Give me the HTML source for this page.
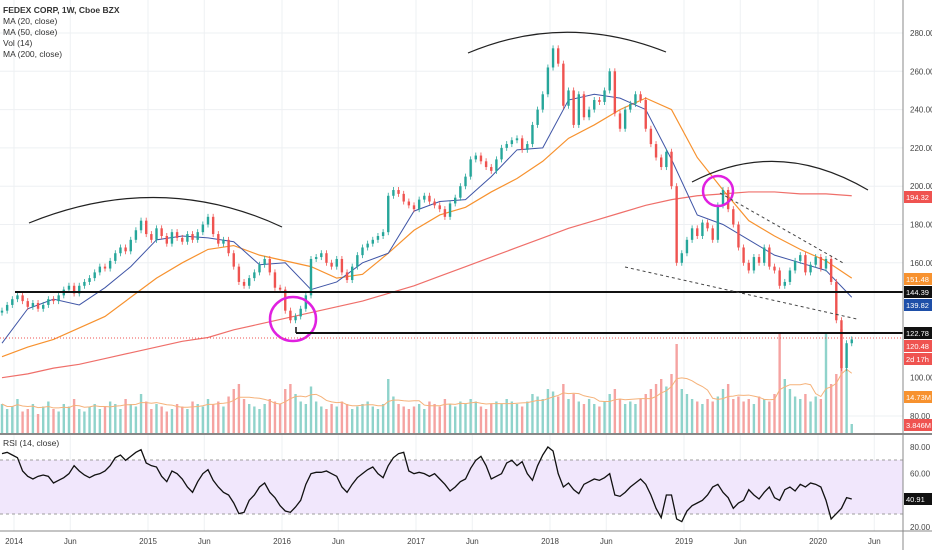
<!DOCTYPE html>
<html><head><meta charset="utf-8">
<style>
body{margin:0;background:#fff;width:932px;height:550px;overflow:hidden;font-family:"Liberation Sans",sans-serif}
svg{display:block}
text{font-family:"Liberation Sans",sans-serif}
</style></head>
<body>
<svg id="chart" width="932" height="550" viewBox="0 0 932 550" xmlns="http://www.w3.org/2000/svg">
<rect x="0" y="0" width="932" height="550" fill="#fff"/>
<g id="grid"></g>
<rect x="0" y="460" width="903" height="54" fill="#f1e7fc"/>
<line x1="0" x2="903" y1="460" y2="460" stroke="#9e9e9e" stroke-dasharray="3,3"/>
<line x1="0" x2="903" y1="514" y2="514" stroke="#9e9e9e" stroke-dasharray="3,3"/>
<g id="vol"></g>
<g id="ma"></g>
<g id="candles"></g>
<g id="rsi"></g>
<g fill="none">
<path d="M29,223 Q160,170 282,227" stroke="#222" stroke-width="1.2"/>
<path d="M468,53 Q565,12 666,52" stroke="#222" stroke-width="1.2"/>
<path d="M692,182 Q778,137 868,190" stroke="#222" stroke-width="1.2"/>
<ellipse cx="293" cy="319" rx="23" ry="22" stroke="#e020e0" stroke-width="2.5"/>
<circle cx="718" cy="191" r="15" stroke="#e020e0" stroke-width="2.5"/>
<line x1="15" x2="903" y1="292" y2="292" stroke="#111" stroke-width="2"/>
<line x1="296" x2="903" y1="333" y2="333" stroke="#111" stroke-width="2"/>
<line x1="296" x2="296" y1="333" y2="327" stroke="#111" stroke-width="1.5"/>
<line x1="0" x2="903" y1="338" y2="338" stroke="#ef5350" stroke-width="1" stroke-dasharray="1,2"/>
<line x1="720" y1="193" x2="845" y2="264" stroke="#444" stroke-dasharray="3,3"/>
<line x1="625" y1="267" x2="857" y2="319" stroke="#444" stroke-dasharray="3,3"/>
</g>
<line x1="903" x2="903" y1="0" y2="550" stroke="#888"/>
<line x1="0" x2="932" y1="434" y2="434" stroke="#888" stroke-width="2"/>
<line x1="0" x2="932" y1="531" y2="531" stroke="#888" stroke-width="1"/>
<g id="axis" font-size="8" fill="#444"></g>
<g font-size="8.5" fill="#333">
<text x="3" y="13" font-weight="bold">FEDEX CORP, 1W, Cboe BZX</text>
<text x="3" y="24">MA (20, close)</text>
<text x="3" y="35">MA (50, close)</text>
<text x="3" y="46">Vol (14)</text>
<text x="3" y="57">MA (200, close)</text>
<text x="3" y="446">RSI (14, close)</text>
</g>
</svg>
<script>
const closes=[135,138,141,143,140,137,139,136,138,141,
140,143,146,148,144,148,150,152,155,158,
157,161,165,168,166,172,177,182,175,172,
178,174,170,176,173,171,175,172,176,180,
184,175,170,172,165,158,150,148,152,155,
159,162,155,147,146,135,130,132,136,143,
162,163,165,160,158,162,155,151,158,164,
168,170,172,174,176,195,198,196,192,190,
188,193,195,192,190,188,184,191,194,200,
205,214,216,213,210,208,214,220,222,224,
225,219,222,232,240,248,262,272,264,242,
250,232,248,236,240,245,244,250,260,238,
230,240,243,248,245,230,222,215,210,218,
200,160,165,172,178,174,181,178,172,190,
198,188,180,168,160,156,163,160,168,158,
156,148,150,156,161,164,155,159,163,157,
162,150,130,105,118,120];
const volumes=[12,10,11,14,9,10,12,8,11,13,
10,9,12,11,14,10,9,11,12,10,
11,13,12,10,14,12,11,16,13,10,
12,11,9,10,12,11,10,13,12,11,
14,12,13,11,15,18,20,14,12,11,
10,12,14,13,12,18,20,16,13,12,
19,13,11,10,12,11,13,12,10,11,
12,13,11,10,12,22,15,12,11,10,
11,12,10,13,12,11,14,12,11,13,
12,14,13,11,10,12,13,12,14,13,
12,11,13,16,15,14,18,17,15,20,
14,16,13,12,14,12,11,13,16,18,
14,12,13,12,14,16,18,20,22,19,
24,36,18,16,14,13,12,14,13,15,
18,20,14,15,13,14,12,15,14,13,
16,40,22,18,15,14,16,13,15,14,
40,20,24,42,26,4];
const rsiVals=[75,76,74,72,62,58,56,58,59,58,
53,55,57,60,66,62,59,57,59,60,
62,66,72,74,70,73,76,78,68,66,
65,58,54,62,60,56,50,46,54,60,
63,55,50,46,44,38,30,31,40,44,
50,53,46,42,36,32,31,35,40,52,
60,61,61,62,60,58,50,46,52,57,
60,63,65,60,57,66,72,75,76,62,
60,61,60,58,60,56,52,47,50,54,
56,64,70,73,66,56,58,60,68,70,
66,69,60,55,66,74,80,77,60,50,
53,48,45,52,54,56,55,57,60,44,
43,46,50,53,56,52,44,34,27,44,
44,26,24,32,36,38,40,44,50,52,
46,42,34,38,40,48,44,41,46,50,
42,40,48,50,47,52,50,53,52,50,
40,26,30,34,42,41];
// moving averages sampled every 5 bars
const ma20=[118,136,141,138,147,158,172,174,173,171,159,160,146,150,160,165,187,192,193,205,219,220,245,248,246,240,214,185,180,172,164,160,156,142];
const ma50=[111,116,120,126,132,142,152,160,167,169,164,161,158,152,154,165,177,185,189,197,204,213,225,232,240,246,240,215,198,182,174,167,161,152];
const ma200=[100,102,105,107,110,113,116,119,121,125,128,131,134,137,140,144,148,153,158,163,168,173,178,182,186,190,193,195,196,197,197,196,196,195];
const priceTicks=[280,260,240,220,200,180,160,80];
const rsiTicks=[80,60,20];
const timeLabels=["2014","Jun","2015","Jun","2016","Jun","2017","Jun","2018","Jun","2019","Jun","2020","Jun"];
const timeYears=[2014,2014.42,2015,2015.42,2016,2016.42,2017,2017.42,2018,2018.42,2019,2019.42,2020,2020.42];

const NS="http://www.w3.org/2000/svg";
const xOf=i=>2+i*5.15;
const xYear=t=>14+(t-2014)*134;
const yP=v=>33+(280-v)*1.915;
const yR=v=>447+(80-v)*1.3333;
const yV=m=>434-m*2.5;
function mk(tag,attrs,parent){const e=document.createElementNS(NS,tag);for(const k in attrs)e.setAttribute(k,attrs[k]);parent.appendChild(e);return e;}
const G=id=>document.getElementById(id);
const grid=G('grid'),axis=G('axis');
priceTicks.forEach(v=>{
  const l=mk('line',{x1:0,x2:903,y1:yP(v),y2:yP(v),stroke:'#eef0f3'},grid);
  
  
  const t=mk('text',{x:910,y:yP(v)+3},axis);t.textContent=v.toFixed(2);
  
  
});
rsiTicks.forEach(v=>{
  const t=mk('text',{x:910,y:yR(v)+3},axis);t.textContent=v.toFixed(2);
  
  
});
timeLabels.forEach((s,k)=>{
  const x=xYear(timeYears[k]);
  const l=mk('line',{x1:x,x2:x,y1:0,y2:531,stroke:'#eef0f3'},grid);
  
  
  const t=mk('text',{x:x,y:544,'text-anchor':'middle'},axis);t.textContent=s;
  
  
});
// volume
const vg=G('vol');
volumes.forEach((m,i)=>{
  const up=i===0||closes[i]>=closes[i-1];
  const r=mk('rect',{x:xOf(i)-1.2,y:yV(m),width:2.4,height:434-yV(m),fill:up?'#8fd3cb':'#f5a3a1'},vg);
  
  
});
let vp='';volumes.forEach((m,i)=>{let s=0,n=0;for(let j=Math.max(0,i-6);j<=i;j++){s+=volumes[j];n++;}vp+=(i?'L':'M')+xOf(i)+','+yV(s/n);});
const vm=mk('path',{d:vp,fill:'none',stroke:'#f5b27a','stroke-width':1},vg);


// MAs
function maPath(arr){return arr.map((v,k)=>(k?'L':'M')+xOf(Math.min(k*5,165))+','+yP(v)).join('');}
const mg=G('ma');
const p200=mk('path',{d:maPath(ma200),fill:'none',stroke:'#ef6f6a','stroke-width':1.2},mg);


const p50=mk('path',{d:maPath(ma50),fill:'none',stroke:'#f7922f','stroke-width':1.2},mg);


const p20=mk('path',{d:maPath(ma20),fill:'none',stroke:'#3f55a6','stroke-width':1},mg);


// candles
const cg=G('candles');
closes.forEach((c,i)=>{
  const o=i?closes[i-1]:c-1;const up=c>=o;const col=up?'#26a69a':'#ef5350';
  const x=xOf(i);const y1=yP(Math.max(o,c)),y2=yP(Math.min(o,c));
  const w=mk('line',{x1:x,x2:x,y1:y1-3,y2:y2+3,stroke:col,'stroke-width':0.8},cg);
  
  
  const b=mk('rect',{x:x-1.2,y:y1,width:2.4,height:Math.max(1,y2-y1),fill:col},cg);
  
  
});
// rsi
const rp=mk('path',{d:rsiVals.map((v,i)=>(i?'L':'M')+xOf(i)+','+yR(v)).join(''),fill:'none',stroke:'#111','stroke-width':1.3},G('rsi'));


// axis badges
const badges=[[197,'194.32','#ef5350'],[279,'151.48','#f7922f'],[292,'144.39','#111'],[305,'139.82','#1e4fa8'],[333,'122.78','#111'],[346,'120.48','#ef5350'],[359,'2d 17h','#ef5350'],[397,'14.73M','#f7922f'],[425,'3.846M','#ef5350'],[yR(rsiVals[165]),'40.91','#111']];
badges.forEach(b=>{
  const r=mk('rect',{x:904,y:b[0]-6,width:28,height:12,fill:b[2]},axis);
  
  
  const t=mk('text',{x:906,y:b[0]+3,fill:'#fff','font-size':'7.5'},axis);t.textContent=b[1];
  
  
});
{const t=mk('text',{x:910,y:yP(100)+3},axis);t.textContent='100.00';

}
</script>
</body></html>
